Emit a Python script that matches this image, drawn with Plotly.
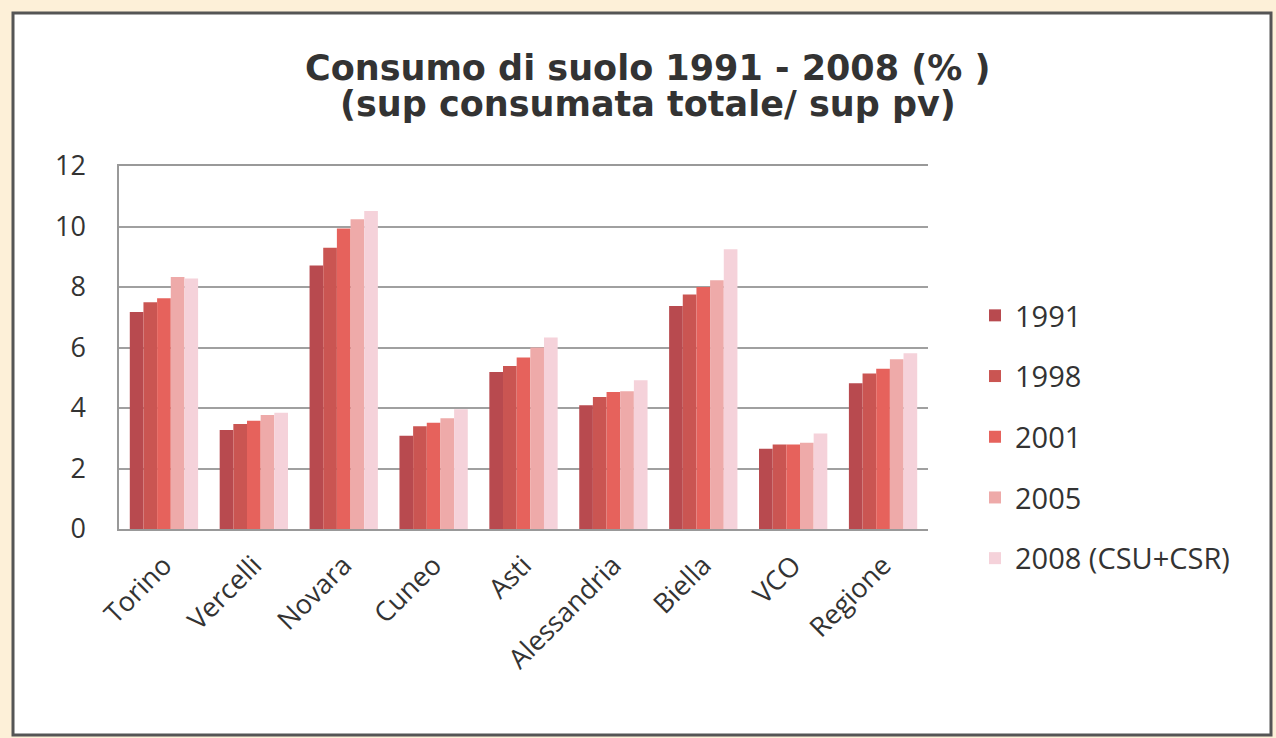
import plotly.graph_objects as go

categories = ["Torino", "Vercelli", "Novara", "Cuneo", "Asti", "Alessandria", "Biella", "VCO", "Regione"]
series_names = ["1991", "1998", "2001", "2005", "2008 (CSU+CSR)"]
v1991 = [7.17, 3.27, 8.71, 3.08, 5.19, 4.09, 7.37, 2.65, 4.82]
v1998 = [7.50, 3.47, 9.30, 3.40, 5.39, 4.36, 7.75, 2.79, 5.14]
v2001 = [7.63, 3.58, 9.93, 3.51, 5.67, 4.53, 8.00, 2.79, 5.30]
v2005 = [8.33, 3.77, 10.24, 3.66, 6.00, 4.55, 8.22, 2.85, 5.61]
v2008 = [8.28, 3.84, 10.51, 3.96, 6.33, 4.92, 9.25, 3.16, 5.81]
colors = ["#b84a4f", "#ca5552", "#e6625c", "#eeaaa9", "#f5d2da"]
yticks = [0, 2, 4, 6, 8, 10, 12]
title_lines = ["Consumo di suolo 1991 - 2008 (% )", "(sup consumata totale/ sup pv)"]

W, H = 1276, 738
L, R, T, B = 119, 928, 166, 529

fig = go.Figure()
for name, vals, c in zip(series_names, [v1991, v1998, v2001, v2005, v2008], colors):
    fig.add_trace(go.Bar(x=categories, y=vals, name=name, marker=dict(color=c, line=dict(width=0)),
                         legendgroup=name))

def px(x):
    return (x - L) / (R - L)

def py(y):
    return (B - y) / (B - T)

fig.add_shape(type="rect", xref="paper", yref="paper", x0=px(13), x1=px(1271), y0=py(735), y1=py(13),
              fillcolor="white", line=dict(color="#555555", width=3), layer="below")

title_font = dict(family="DejaVu Sans, Verdana, sans-serif", size=35, color="#333333")
for txt, yc in zip(title_lines, [68, 104]):
    fig.add_annotation(text="<b>" + txt + "</b>", xref="paper", yref="paper", x=px(648), y=py(yc),
                       xanchor="center", yanchor="middle", showarrow=False, font=title_font)

font_tick = "Open Sans, Noto Sans, sans-serif"
fig.update_layout(
    width=W, height=H,
    margin=dict(l=L, r=W - R, t=T, b=H - B, autoexpand=False),
    paper_bgcolor="#fdf0d8",
    plot_bgcolor="rgba(0,0,0,0)",
    barmode="group", bargap=0.24, bargroupgap=0.0,
    showlegend=True,
    legend=dict(x=px(975), xanchor="left", y=py(290), yanchor="top", bgcolor="rgba(0,0,0,0)",
                font=dict(family=font_tick, size=29, color="#333333"), tracegroupgap=20),
    xaxis=dict(tickangle=-45, showline=True, mirror=True, linecolor="#999999", linewidth=1.5, showgrid=False,
               tickfont=dict(family=font_tick, size=27, color="#333333"), ticks="",
               ticklabelstandoff=8),
    yaxis=dict(range=[0, 12], tickvals=yticks, showgrid=True, gridcolor="#a0a0a0", gridwidth=1.5,
               showline=True, linecolor="#999999", linewidth=1.5, zeroline=False, mirror=False,
               tickfont=dict(family=font_tick, size=27, color="#333333"), ticks="",
               ticklabelstandoff=26),
)
fig.write_html("out.html", config={"displayModeBar": False},
               post_script="document.body.style.margin='0';document.body.style.background='#fdf0d8';")
